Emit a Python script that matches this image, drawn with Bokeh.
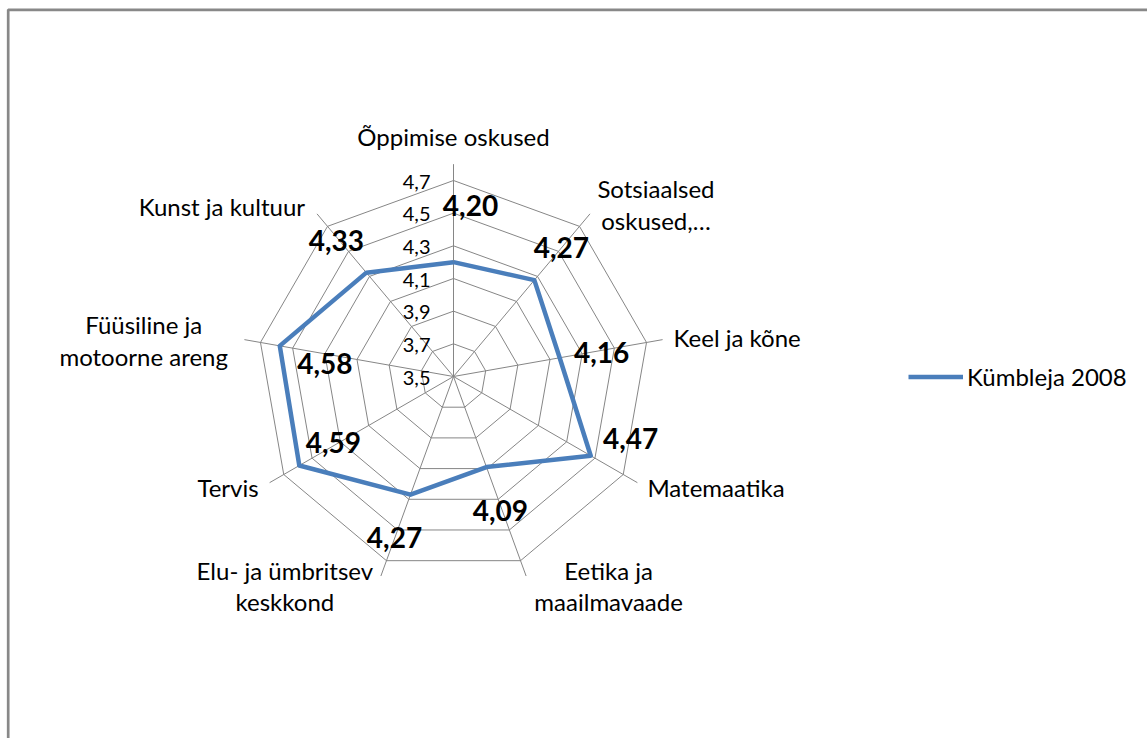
import numpy as np
from bokeh.plotting import figure
from bokeh.models import Range1d, BoxAnnotation, ColumnDataSource, Legend, LegendItem
from bokeh.core.properties import value
from bokeh.embed import file_html
from bokeh.resources import INLINE

# ---------------- data ----------------
categories = ["Õppimise oskused", "Sotsiaalsed\noskused,…", "Keel ja kõne", "Matemaatika",
              "Eetika ja\nmaailmavaade", "Elu- ja ümbritsev\nkeskkond", "Tervis",
              "Füüsiline ja\nmotoorne areng", "Kunst ja kultuur"]
values_2008 = [4.20, 4.27, 4.16, 4.47, 4.09, 4.27, 4.59, 4.58, 4.33]
value_labels = ["4,20", "4,27", "4,16", "4,47", "4,09", "4,27", "4,59", "4,58", "4,33"]
tick_values = [3.5, 3.7, 3.9, 4.1, 4.3, 4.5, 4.7]
tick_labels = ["3,5", "3,7", "3,9", "4,1", "4,3", "4,5", "4,7"]
series_name = "Kümbleja 2008"

# ---------------- style / layout ----------------
W, H = 1147, 738
CX, CY = 453, 376            # centre of radar in canvas px
R_MIN, R_MAX = tick_values[0], tick_values[-1]
K = 196 / (R_MAX - R_MIN)    # px per value unit
SPOKE_EXT = 0.1
FONT = value("Lato")
GRID = "#868686"
BLUE = "#4a7ebb"

# label pixel offsets (x right, y down)
lab_dx = [17, 27, 42, 40, 14, -16, 34, 45, -30]
lab_dy = [-57, -33, -5, -17, 43, 43, -23, 18, -32]
cat_dx = [0, 66, 11, 10, 82.5, -96, -11, -100.7, -12]
cat_dy = [-28, -9, -2, 5, 10, 10, 5, 1, -7]
cat_align = ["center", "center", "left", "left", "center", "center", "right", "center", "right"]

n = len(categories)
theta = np.arange(n) * 2 * np.pi / n
sin_t, cos_t = np.sin(theta), np.cos(theta)

x0, x1 = -CX / K, (W - CX) / K
y0, y1 = -(H - CY) / K, CY / K
p = figure(width=W, height=H, output_backend="svg", toolbar_location=None,
           x_range=Range1d(x0, x1), y_range=Range1d(y0, y1),
           min_border=0, min_border_left=0, min_border_right=0, min_border_top=0, min_border_bottom=0)
p.axis.visible = False
p.grid.visible = False
p.outline_line_color = None
p.background_fill_color = "white"

# chart border (only top and left edges fall inside the window)
p.add_layout(BoxAnnotation(left=(7.7 - CX) / K, top=(CY - 9.3) / K, right=x1 + 1, bottom=y0 - 1,
                           fill_alpha=0, line_color="#888888", line_width=2.7, line_alpha=1))

# rings
ring_xs, ring_ys = [], []
for t in tick_values[1:]:
    r = t - R_MIN
    ring_xs.append(list(np.append(r * sin_t, r * sin_t[0])))
    ring_ys.append(list(np.append(r * cos_t, r * cos_t[0])))
p.multi_line(ring_xs, ring_ys, line_color=GRID, line_width=1)

# spokes
R_end = R_MAX - R_MIN + SPOKE_EXT
p.segment(x0=np.zeros(n), y0=np.zeros(n), x1=R_end * sin_t, y1=R_end * cos_t,
          line_color=GRID, line_width=1)

# tick labels
tr = np.array(tick_values) - R_MIN
p.text(x=np.zeros(len(tr)), y=tr, text=tick_labels, x_offset=-23, y_offset=1,
       text_align="right", text_baseline="middle", text_font=FONT,
       text_font_size="20px", text_color="black")

# data series
rv = np.array(values_2008) - R_MIN
dx, dy = rv * sin_t, rv * cos_t
ser = p.line(np.append(dx, dx[0]), np.append(dy, dy[0]), line_color=BLUE,
             line_width=4.5, line_join="round")

# value labels
src = ColumnDataSource(dict(x=dx, y=dy, t=value_labels, xo=lab_dx, yo=lab_dy))
p.text(x="x", y="y", text="t", x_offset="xo", y_offset="yo", source=src,
       text_align="center", text_baseline="middle", text_font=FONT,
       text_font_style="bold", text_font_size="28px", text_color="black")

# category labels
for al in ["center", "left", "right"]:
    idx = [i for i in range(n) if cat_align[i] == al]
    s = ColumnDataSource(dict(
        x=[R_end * sin_t[i] for i in idx], y=[R_end * cos_t[i] for i in idx],
        t=[categories[i] for i in idx], xo=[cat_dx[i] for i in idx], yo=[cat_dy[i] for i in idx]))
    p.text(x="x", y="y", text="t", x_offset="xo", y_offset="yo", source=s,
           text_align=al, text_baseline="middle", text_font=FONT, text_font_size="24px",
           text_color="black", text_line_height=1.1)

# legend
leg = Legend(items=[LegendItem(label=series_name, renderers=[ser])],
             location=(908, H - CY - 14.5), glyph_width=55, glyph_height=29, label_standoff=4,
             padding=0, margin=0, spacing=0, border_line_color=None, background_fill_alpha=0,
             label_text_font="Lato", label_text_font_size="24px", label_text_color="black",
             label_height=29)
p.add_layout(leg, "center")

open("out.html", "w").write(file_html(p, INLINE, title="Radar"))
